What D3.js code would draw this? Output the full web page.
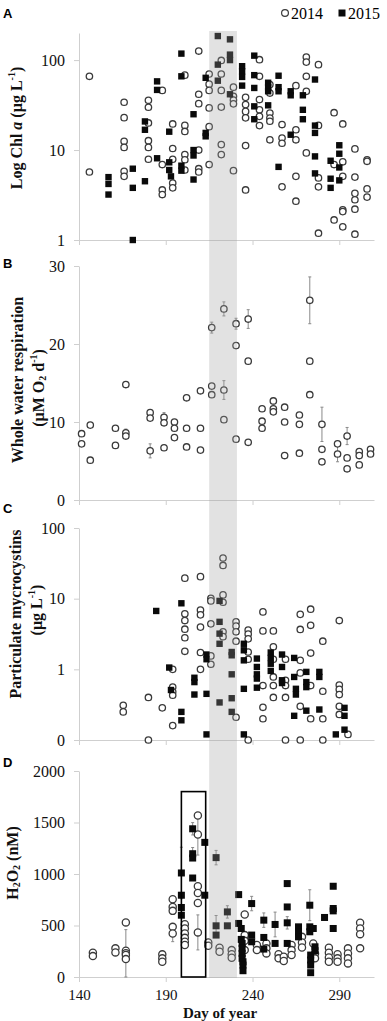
<!DOCTYPE html>
<html>
<head>
<meta charset="utf-8">
<script src="https://cdn.jsdelivr.net/npm/d3@7"></script>
<style>
  body { margin: 0; background: #fff; }
  svg text { font-family: "Liberation Serif", "Times New Roman", serif; }
</style>
</head>
<body>
<div id="chart"></div>
<script>
// day of year ticks + highlighted window
const dayTicks = [140, 190, 240, 290];
const bandDays = [215, 231];
const boxDays = [199, 213];
const boxMax = 1800;

// A: chl a (log), [day, value]
const chl2014 = [
  [146,66],[146,5.7],
  [166,34],[166,22.9],[166,12.5],[166,10.7],[166,5.8],[166,5.1],
  [180,35.7],[180,29.9],[180,20],[180,12.7],[180,10.7],[180,7.9],
  [188,46],[188,6.9],[188,3.6],[188,3.2],
  [194,19.5],[194,10.4],[194,7.9],[194,4.3],[194,3.8],
  [201,68],[201,18.8],[201,16.1],[201,8.9],[201,7.8],[201,6.0],
  [209,126],[209,41.7],[209,32.8],[209,10],[209,6.2],[209,5.7],
  [215,70],[215,54],[215,46],[215,29.4],[215,18.2],[215,6.9],
  [222,99],[222,70],[222,46],[222,30],[222,11.5],[222,8.9],
  [229,50],[229,39.6],[229,36],[229,32.6],[229,5.9],
  [236,38.5],[236,32],[236,26.9],[236,22.8],[236,11.2],[236,3.6],
  [244,101],[244,66],[244,36.4],[244,28],[244,23.7],[244,18.7],
  [250,53.4],[250,43],[250,25.8],[250,22.7],[250,20.9],[250,13],
  [257,19.2],[257,13.6],[257,11.9],[257,3.9],
  [265,52],[265,16.8],[265,13],[265,5.1],[265,2.7],
  [271,108],[271,95],[271,66],[271,45],[271,9.3],
  [278,89],[278,18.8],[278,4.9],[278,3.9],[278,1.19],
  [287,26],[287,6.9],[287,1.67],
  [292,19.5],[292,7.4],[292,5.1],[292,2.16],[292,2.07],[292,1.4],
  [299,10.3],[299,5.0],[299,3.3],[299,2.8],[299,2.2],[299,1.16],
  [306,7.8],[306,7.5],[306,3.7],[306,3.0]
];
const chl2015 = [
  [157,5.0],[157,4.2],[157,3.2],
  [171,6.2],[171,3.8],[171,1.0],
  [178,20.8],[178,16.8],[178,4.5],
  [185,58],[185,46.6],[185,8.1],
  [192,16],[192,7.3],[192,6.0],[193,5.1],
  [199,118],[199,66],[199,6.7],[199,5.9],
  [206,25],[206,10],[206,8.7],[206,4.7],
  [213,63.5],[213,15.5],[213,14.2],
  [220,185],[220,89],[220,59],
  [227,170],[227,115],[227,100],[227,41.7],
  [234,85.5],[234,75],[234,65],[234,52],
  [241,112],[241,68],[241,49],[241,30.6],[241,22],
  [249,56],[249,50],[249,45],[249,31.4],
  [255,67],[255,50],[255,45],[255,6.5],
  [262,45],[262,40.6],[262,14.8],
  [269,40.6],[269,28],[269,22],
  [276,60.8],[276,18.7],[276,15.5],[276,8.5],[276,5.5],
  [285,7.6],[285,4.8],[285,3.8],
  [290,11.3],[290,9.1],[290,6.4],[290,4.6]
];

// B: whole water respiration, [day, value, sd]
const resp2014 = [
  [141.5,8.5],[141.5,7.2],[146.5,9.6],[146.5,5.1],
  [161,9.2],[161,7.0],[167,14.8],[167,8.6,0.5],[167,8.2],
  [181,11.2],[181,10.5],[181,6.3,0.9],
  [189,10.6,0.6],[189,9.9],[189,6.7],
  [195,10.0],[195,9.2],[195,8.0],
  [202,13.1],[202,9.2],[202,6.8],
  [210,14.0],[210,9.2],[210,6.4],
  [216.5,22.1,0.7],[216.5,14.6],[216.5,13.5],
  [223.5,24.5,0.9],[223.5,14.1,1.2],[223.5,10.3],
  [230.5,22.6,0.7],[230.5,19.8],[230.5,7.8],
  [237.5,23.2,1.2],[237.5,17.8],[237.5,7.4],
  [245.5,11.7],[245.5,10.1],[245.5,9.2],
  [252,12.7],[252,11.7,0.5],[252,11.3],
  [258.5,11.9],[258.5,10.0],[258.5,5.7],
  [267,10.9],[267,9.7],[267,6.0],
  [273,25.6,3.0],[273,17.8],[273,13.5],
  [280,9.7,2.2],[280,6.5],[280,4.9],
  [289,7.2],[289,5.9,1.0],
  [294.5,8.2,1.1],[294.5,5.4],[294.5,4.0],
  [301.5,6.2],[301.5,5.7],[301.5,4.5],
  [308,6.5],[308,5.9]
];

// C: particulate microcystins (log, "0" = 0.1)
const myc2014 = [
  [165.5,0.31],[165.5,0.25],
  [180,0.40],[180,0.1],
  [188,0.285],
  [194,1.0],[194,0.56],[194,0.48],[194,0.43],[194,0.16],
  [201,19.5],[201,6.1],[201,4.9],[201,3.7],[201,2.8],[201,1.8],
  [210,20.5],[210,6.9],[210,5.9],[210,3.96],[210,1.73],[210,1.0],
  [216,10.1],[216,9.3],[216,4.4],[216,1.55],[216,1.18],
  [223,37.6],[223,29.5],[223,11.3],[223,8.9],[223,3.4],[223,2.9],
  [230.5,4.7],[230.5,4.1],[230.5,3.4],[230.5,2.5],[230.5,0.21],
  [237.5,3.6],[237.5,3.15],[237.5,2.7],[237.5,1.76],[237.5,1.39],[237.5,0.1],
  [246,6.5],[246,3.5],[246,0.59],[246,0.29],[246,0.2],
  [252,3.5],[252,2.08],[252,1.39],[252,0.78],[252,0.59],[252,0.4],
  [259,1.39],[259,0.7],[259,0.59],[259,0.4],[259,0.1],
  [267.5,6.0],[267.5,3.67],[267.5,1.34],[267.5,0.89],[267.5,0.3],[267.5,0.1],
  [273.5,7.1],[273.5,4.2],[273.5,1.7],[273.5,0.59],[273.5,0.2],
  [280.5,2.5],[280.5,0.49],[280.5,0.2],[280.5,0.1],
  [290,4.9],[290,0.6],[290,0.52],[290,0.44],[290,0.3],[290,0.23],
  [295,0.12]
];
const myc2015 = [
  [184.5,6.7],[192,1.06],[193,0.51],
  [199,8.6],[199,0.25],[199,0.19],
  [206.5,0.76],[206.5,0.66],[206.5,0.44],
  [213.5,1.62],[213.5,1.39],[213.5,0.45],[213.5,0.12],
  [221,9.3],[221,4.7],[221,3.2],[221,2.3],[221,0.34],
  [228,1.76],[228,1.58],[228,0.85],[228,0.39],[228,0.25],
  [235,2.3],[235,1.86],[235,1.34],[235,0.53],[235,0.12],
  [242.5,1.42],[242.5,1.08],[242.5,0.85],[242.5,0.74],[242.5,0.55],
  [250.5,1.73],[250.5,1.45],[250.5,1.2],[250.5,0.95],
  [257,1.62],[257,1.08],[257,0.7],[257,0.64],
  [264,1.45],[264,0.78],[265,0.53],[265,0.44],[264,0.22],
  [271,0.92],[271,0.66],[271,0.56],[271,0.26],
  [278.5,0.92],[278.5,0.78],[278.5,0.27],
  [288,0.12],
  [293,0.285],[293,0.22],[293,0.14]
];

// D: H2O2 (nM), [day, value, sd]
const h2o2_2014 = [
  [148,235],[148,203],
  [161,278],[161,239],
  [167,530],[167,255],[167,230,230],[167,213],[167,174],
  [188,220],[188,181],[188,148],
  [194,755],[194,680],[194,642],[194,487],[194,423,80],
  [201,513],[201,471],[201,423],[201,380],[201,342],[201,310],
  [208.5,1568],[208.5,1384,200],[208.5,881],[208.5,816],[208.5,719],[208.5,433,170],
  [214.5,336],[214.5,303],
  [221,284],[221,245],
  [228,261],[228,222],[228,187],
  [235.5,607],[235.5,407],[235.5,351],[235.5,261],
  [242.5,310],[242.5,261],
  [248,326],[248,278],[248,229],
  [255,222],[255,181],
  [258,197],[258,155],
  [262.5,310],[262.5,261],[262.5,213],
  [268.5,390],[268.5,336],[268.5,287],
  [275,326],[276,229],[276,181],
  [284,284],[284,235],[284,190],[284,148],
  [289,222],[289,181],[289,148],
  [295,278],[295,229],[295,181],[295,132],
  [302,526],[302,471],[302,416],[302,278]
];
const h2o2_2015 = [
  [199,1010,250],[199,794],[199,675],[199,600],
  [205.5,1439,60],[205.5,1197,60],[205.5,1155],[205.5,961],
  [212.5,1307],[212.5,794],
  [219,1159,70],[219,497,100],[219,407],
  [225.5,632,60],[225.5,497],
  [232,800],[232,520],[233.5,471],[233.5,365],[234,326],[234,278],[234,229],
  [234,181],[234.5,148],[234.5,116],[234.5,61],
  [239.5,713,70],[239.5,407],[239.5,342],
  [246.5,552,70],[246.5,384],[246.5,271],
  [253,510,120],[253,326],
  [260,907],[260,680],[260,526,60],[260,326],
  [266.5,487],[266.5,439],[266.5,390],
  [273,697,150],[273,487],[273,439],[273.5,213],[273.5,165],[273.5,116],[273.5,42],
  [275,471],[276,293],[276,255],
  [281.5,578],
  [286.5,881],[286.5,665],[286.5,642],[286.5,471]
];

const width = 387;
const height = 1021;
const axisColor = "#cfcfcf";

const svg = d3.select("#chart")
  .append("svg")
  .attr("width", width)
  .attr("height", height);

const x = d3.scaleLinear().domain([140, 310]).range([79, 374]);

// panel setup
const panels = [
  { letter: "A", letterY: 18, top: 33, bottom: 240,
    y: d3.scaleLog().domain([1, 200]).range([240, 33]),
    ticks: [1, 10, 100], fmt: d => d,
    circles: chl2014, squares: chl2015 },
  { letter: "B", letterY: 268, top: 266, bottom: 500,
    y: d3.scaleLinear().domain([0, 30]).range([500, 266]),
    ticks: [0, 10, 20, 30], fmt: d => d,
    circles: resp2014, squares: [] },
  { letter: "C", letterY: 513, top: 528, bottom: 740,
    y: d3.scaleLog().domain([0.1, 100]).range([740, 528]),
    ticks: [0.1, 1, 10, 100], fmt: d => d < 1 ? "0" : d,
    circles: myc2014, squares: myc2015 },
  { letter: "D", letterY: 767, top: 771, bottom: 977,
    y: d3.scaleLinear().domain([0, 2000]).range([977, 771]),
    ticks: [0, 500, 1000, 1500, 2000], fmt: d => d,
    circles: h2o2_2014, squares: h2o2_2015 }
];

panels.forEach((p, i) => {
  const g = svg.append("g");

  // y axis
  const ya = g.append("g")
    .attr("transform", "translate(79,0)")
    .call(d3.axisLeft(p.y).tickValues(p.ticks).tickFormat(p.fmt).tickSize(5).tickPadding(9).tickSizeOuter(0));
  ya.selectAll("text").attr("font-size", 16).attr("fill", "#111")
    .style("font-family", "Liberation Serif");

  // x axis
  const xa = g.append("g")
    .attr("transform", `translate(0,${p.bottom})`)
    .call(d3.axisBottom(x).tickValues(dayTicks).tickSize(5).tickPadding(8).tickSizeOuter(0));
  if (i === 3) {
    xa.selectAll("text").attr("font-size", 15).attr("fill", "#111")
      .attr("y", 12.5)
      .style("font-family", "Liberation Serif");
  } else {
    xa.selectAll("text").remove();
  }
  g.selectAll(".domain").attr("stroke", axisColor);
  g.selectAll(".tick line").attr("stroke", axisColor);

  // error bars
  const withErr = p.circles.concat(p.squares).filter(d => d[2]);
  const eb = g.append("g").attr("stroke", "#8a8a8a").attr("stroke-width", 1);
  withErr.forEach(d => {
    const cx = x(d[0]);
    const y1 = p.y(d[1] + d[2]);
    const y2 = p.y(Math.max(d[1] - d[2], p.y.domain()[0]));
    eb.append("line").attr("x1", cx).attr("x2", cx).attr("y1", y1).attr("y2", y2);
    eb.append("line").attr("x1", cx - 1.5).attr("x2", cx + 1.5).attr("y1", y1).attr("y2", y1);
    eb.append("line").attr("x1", cx - 1.5).attr("x2", cx + 1.5).attr("y1", y2).attr("y2", y2);
  });

  // 2014 circles
  g.append("g").selectAll("circle")
    .data(p.circles)
    .enter()
    .append("circle")
    .attr("cx", d => x(d[0]))
    .attr("cy", d => p.y(d[1]))
    .attr("r", i === 3 ? 3.6 : 3.2)
    .attr("fill", "#fff")
    .attr("stroke", "#3a3a3a")
    .attr("stroke-width", 1.3);

  // 2015 squares
  const s = i === 3 ? 7 : 6.4;
  g.append("g").selectAll("rect")
    .data(p.squares)
    .enter()
    .append("rect")
    .attr("x", d => x(d[0]) - s / 2)
    .attr("y", d => p.y(d[1]) - s / 2)
    .attr("width", s)
    .attr("height", s)
    .attr("fill", "#0a0a0a");

  // panel letter
  svg.append("text")
    .attr("x", 3)
    .attr("y", p.letterY)
    .attr("font-size", 13)
    .attr("font-weight", "bold")
    .style("font-family", "Liberation Sans, Arial, sans-serif")
    .text(p.letter);
});

// grey highlight window over all panels
svg.append("rect")
  .attr("x", x(bandDays[0]))
  .attr("y", 31)
  .attr("width", x(bandDays[1]) - x(bandDays[0]))
  .attr("height", 978 - 31)
  .attr("fill", "#a0a0a0")
  .attr("opacity", 0.3);

// box in panel D
const yD = panels[3].y;
svg.append("rect")
  .attr("x", x(boxDays[0]))
  .attr("y", yD(boxMax))
  .attr("width", x(boxDays[1]) - x(boxDays[0]))
  .attr("height", yD(0) - yD(boxMax))
  .attr("fill", "none")
  .attr("stroke", "#000")
  .attr("stroke-width", 1.6);

// y titles (rotated)
function yTitle(cx, cy, build) {
  const t = svg.append("text")
    .attr("transform", `translate(${cx},${cy}) rotate(-90)`)
    .attr("text-anchor", "middle")
    .attr("dominant-baseline", "central")
    .attr("font-size", 16)
    .attr("font-weight", "bold")
    .attr("fill", "#111");
  build(t);
}

yTitle(16, 128, t => {
  t.append("tspan").text("Log Chl ");
  t.append("tspan").attr("font-style", "italic").text("a");
  t.append("tspan").text(" (µg L");
  t.append("tspan").attr("font-size", 10).attr("dy", -5).text("-1");
  t.append("tspan").attr("dy", 5).text(")");
});
yTitle(17, 380, t => t.text("Whole water respiration"));
yTitle(38, 388, t => {
  t.append("tspan").text("(µM O");
  t.append("tspan").attr("font-size", 10).attr("dy", 4).text("2");
  t.append("tspan").attr("dy", -4).text(" d");
  t.append("tspan").attr("font-size", 10).attr("dy", -5).text("-1");
  t.append("tspan").attr("dy", 5).text(")");
});
yTitle(15, 614, t => t.text("Particulate mycrocystins"));
yTitle(36, 610, t => {
  t.append("tspan").text("(µg L");
  t.append("tspan").attr("font-size", 10).attr("dy", -5).text("-1");
  t.append("tspan").attr("dy", 5).text(")");
});
yTitle(12, 863, t => {
  t.append("tspan").text("H");
  t.append("tspan").attr("font-size", 10).attr("dy", 4).text("2");
  t.append("tspan").attr("dy", -4).text("O");
  t.append("tspan").attr("font-size", 10).attr("dy", 4).text("2");
  t.append("tspan").attr("dy", -4).text(" (nM)");
});

// x title
svg.append("text")
  .attr("x", 220)
  .attr("y", 1017.5)
  .attr("text-anchor", "middle")
  .attr("font-size", 15)
  .attr("font-weight", "bold")
  .attr("fill", "#111")
  .text("Day of year");

// legend
const leg = svg.append("g");
leg.append("circle").attr("cx", 285).attr("cy", 13).attr("r", 3.4)
  .attr("fill", "#fff").attr("stroke", "#3a3a3a").attr("stroke-width", 1.2);
leg.append("text").attr("x", 291).attr("y", 18.5).attr("font-size", 16).text("2014");
leg.append("rect").attr("x", 338.5).attr("y", 9.5).attr("width", 7).attr("height", 7).attr("fill", "#0a0a0a");
leg.append("text").attr("x", 348).attr("y", 18.5).attr("font-size", 16).text("2015");
</script>
</body>
</html>
